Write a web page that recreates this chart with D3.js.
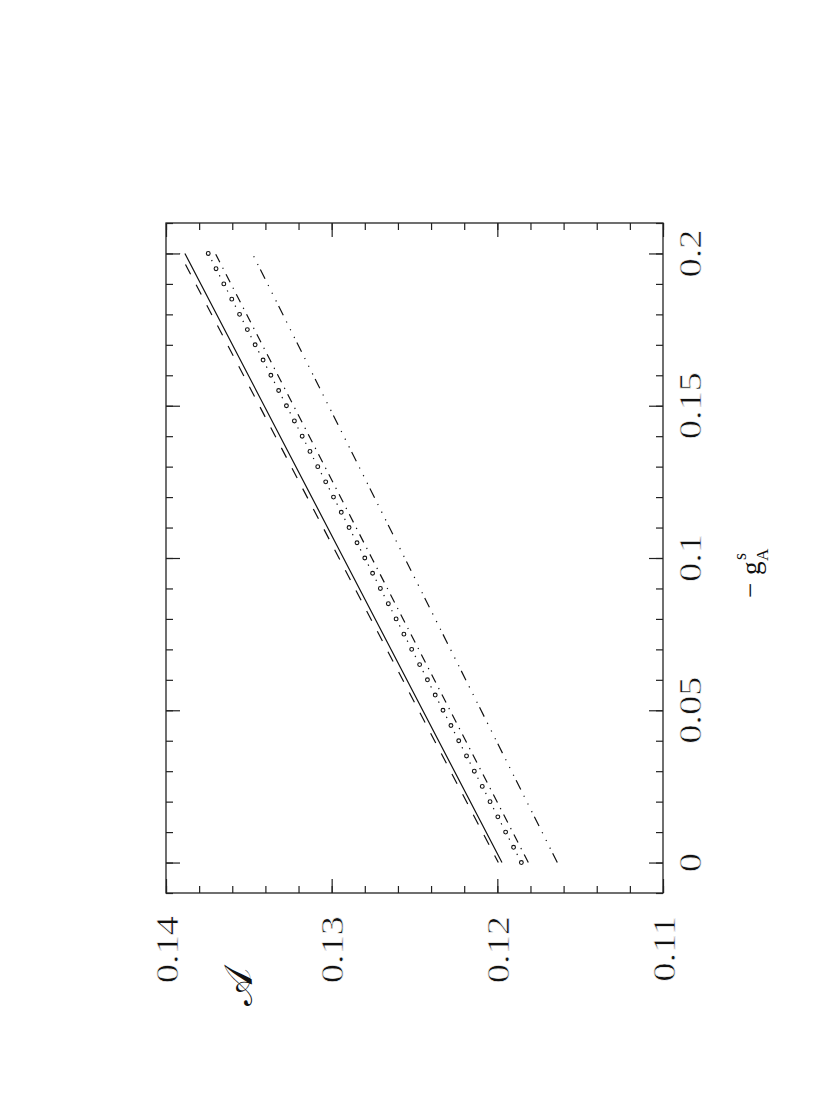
<!DOCTYPE html>
<html>
<head>
<meta charset="utf-8">
<script src="https://cdn.jsdelivr.net/npm/d3@7"></script>
<style>
  html, body { margin: 0; padding: 0; background: #fff; }
  svg { display: block; }
  .tick line { stroke: #222; stroke-width: 1.2; }
  .lbl { font-family: "Liberation Serif", serif; font-size: 32px; fill: #111;
         stroke: #fff; stroke-width: 0.6; paint-order: fill; }
</style>
</head>
<body>
<div id="chart"></div>
<script>
// tick labels
const aLabels = [0.14, 0.13, 0.12, 0.11];
const gLabels = [0, 0.05, 0.1, 0.15, 0.2];

// -g_A^s values where the lines were read
const gLine = [0, 0.1, 0.2];
const aDashed = [0.11994, 0.12956, 0.13917];
const aSolid = [0.11972, 0.12929, 0.13886];
const aDashDot = [0.11813, 0.12758, 0.13702];
const aDashDots = [0.11638, 0.12559, 0.13479];

// circle markers (joined by a dotted line)
const gCircle = [0, 0.005, 0.01, 0.015, 0.02, 0.025, 0.03, 0.035, 0.04, 0.045,
  0.05, 0.055, 0.06, 0.065, 0.07, 0.075, 0.08, 0.085, 0.09, 0.095,
  0.1, 0.105, 0.11, 0.115, 0.12, 0.125, 0.13, 0.135, 0.14, 0.145,
  0.15, 0.155, 0.16, 0.165, 0.17, 0.175, 0.18, 0.185, 0.19, 0.195, 0.2];
const aCircle = [0.11855, 0.11902, 0.11950, 0.11997, 0.12044, 0.12091, 0.12139, 0.12186, 0.12233, 0.12280,
  0.12328, 0.12375, 0.12422, 0.12469, 0.12517, 0.12564, 0.12611, 0.12658, 0.12706, 0.12753,
  0.12800, 0.12847, 0.12895, 0.12942, 0.12989, 0.13036, 0.13084, 0.13131, 0.13178, 0.13225,
  0.13273, 0.13320, 0.13367, 0.13414, 0.13462, 0.13509, 0.13556, 0.13603, 0.13651, 0.13698, 0.13745];

const W = 830, H = 1117;
const frameL = 166, frameR = 663, frameT = 223, frameB = 893;

const svg = d3.select("#chart").append("svg")
  .attr("width", W)
  .attr("height", H);

// plot is rotated: A runs along the bottom, -g_A^s runs up the right side
const x = d3.scaleLinear().domain([0.14, 0.11]).range([frameL, frameR]);
const y = d3.scaleLinear().domain([-0.01, 0.21]).range([frameB, frameT]);

// ticks on all four sides, pointing inward
function ticks(axis, tr, vals, len) {
  const g = svg.append("g").attr("transform", tr)
    .call(axis.tickValues(vals).tickSize(-len).tickFormat(""));
  g.select(".domain").remove();
}
const aMinor = x.ticks(15), gMinor = y.ticks(22);
ticks(d3.axisBottom(x), `translate(0,${frameB})`, aMinor, 7);
ticks(d3.axisBottom(x), `translate(0,${frameB})`, aLabels, 14);
ticks(d3.axisTop(x), `translate(0,${frameT})`, aMinor, 7);
ticks(d3.axisTop(x), `translate(0,${frameT})`, aLabels, 14);
ticks(d3.axisLeft(y), `translate(${frameL},0)`, gMinor, 7);
ticks(d3.axisLeft(y), `translate(${frameL},0)`, gLabels, 14);
ticks(d3.axisRight(y), `translate(${frameR},0)`, gMinor, 7);
ticks(d3.axisRight(y), `translate(${frameR},0)`, gLabels, 14);

svg.append("rect")
  .attr("x", frameL).attr("y", frameT)
  .attr("width", frameR - frameL).attr("height", frameB - frameT)
  .attr("fill", "none")
  .attr("stroke", "#222")
  .attr("stroke-width", 1.3);

// series
const line = d3.line().x(d => x(d[1])).y(d => y(d[0]));
const zip = (gs, as) => gs.map((g, i) => [g, as[i]]);

const series = [
  { a: aDashed, gs: gLine, dash: "11 12", off: 3 },
  { a: aSolid, gs: gLine, dash: null, off: 0 },
  { a: aCircle, gs: gCircle, dash: "1.3 7.26", off: 0 },
  { a: aDashDot, gs: gLine, dash: "9 6 1.3 6.2", off: 0 },
  { a: aDashDots, gs: gLine, dash: "10.4 5.1 1.2 7.4 1.2 7.4 1.2 6.9", off: 0 }
];

svg.append("g").selectAll("path")
  .data(series)
  .join("path")
    .attr("d", d => line(zip(d.gs, d.a)))
    .attr("fill", "none")
    .attr("stroke", "#111")
    .attr("stroke-width", 1.2)
    .attr("stroke-dasharray", d => d.dash)
    .attr("stroke-dashoffset", d => d.off);

svg.append("g").selectAll("circle")
  .data(zip(gCircle, aCircle))
  .join("circle")
    .attr("cx", d => x(d[1]))
    .attr("cy", d => y(d[0]))
    .attr("r", 1.9)
    .attr("fill", "#fff")
    .attr("stroke", "#111")
    .attr("stroke-width", 1.1);

// tick labels, rotated
svg.append("g").selectAll("text")
  .data(aLabels)
  .join("text")
    .attr("class", "lbl")
    .attr("transform", d => `translate(${x(d) + 11.5},916) rotate(-90) scale(1.2,1)`)
    .attr("text-anchor", "end")
    .text(d => d);

svg.append("g").selectAll("text")
  .data(gLabels)
  .join("text")
    .attr("class", "lbl")
    .attr("transform", d => `translate(701,${y(d)}) rotate(-90) scale(1.2,1)`)
    .attr("text-anchor", "middle")
    .text(d => d);

// axis titles
const gt = svg.append("g").attr("transform", "translate(760,598) rotate(-90)")
  .style("font-family", "Liberation Serif, serif").style("fill", "#111");
gt.append("text").attr("x", 0).attr("y", -1).style("font-size", "27px").text("\u2212");
gt.append("text").attr("x", 23).attr("y", 0).style("font-size", "27px").text("g");
gt.append("text").attr("x", 38).attr("y", -14).style("font-size", "18px").text("s");
gt.append("text").attr("x", 37).attr("y", 8).style("font-size", "17px").text("A");

svg.append("text")
  .attr("transform", "translate(252,1006) rotate(-90)")
  .style("font-family", "DejaVu Serif, DejaVu Sans, serif")
  .style("font-size", "40px")
  .style("fill", "#111")
  .text("\u{1D49C}");
</script>
</body>
</html>
